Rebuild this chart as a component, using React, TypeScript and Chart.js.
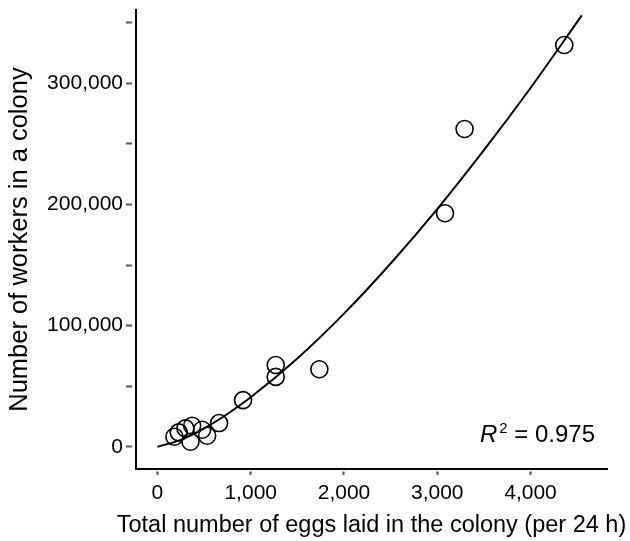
import React, { useEffect, useRef } from 'react';
import { Chart, registerables } from 'chart.js';

Chart.register(...registerables);

// Observed colonies
const eggs = [4362, 3293, 3083, 1736, 1268, 1268, 918, 661, 182, 228, 300, 372, 354, 479, 533];
const workers = [331700, 262300, 192750, 64000, 67500, 57660, 38470, 19520, 8240, 11860, 15160, 17300, 4120, 14000, 9060];

// Fitted curve
const fitEggs = [0, 250, 500, 750, 1000, 1500, 2000, 2500, 3000, 3500, 4000, 4550];
const fitWorkers = [0, 5620, 15150, 27040, 40800, 72870, 109870, 151300, 196200, 244800, 296200, 356100];

const xTicks = [0, 1000, 2000, 3000, 4000];
const yTicks = [0, 50000, 100000, 150000, 200000, 250000, 300000, 350000];
const yLabeled = [0, 100000, 200000, 300000];

const xTitle = 'Total number of eggs laid in the colony (per 24 h)';
const yTitle = 'Number of workers in a colony';
const r2Value = '0.975';

const FAMILY = '"Liberation Sans", Arial, Helvetica, sans-serif';

const fmt = (v: number) => v.toLocaleString('en-US');

const textPlugin = {
  id: 'extraText',
  afterDraw(chart: any) {
    const { ctx, chartArea } = chart;
    ctx.save();
    ctx.fillStyle = '#000';

    // x-axis title (drawn here so that it may run wider than the plot area)
    ctx.font = `23.5px ${FAMILY}`;
    ctx.textAlign = 'center';
    ctx.textBaseline = 'middle';
    ctx.fillText(xTitle, (chartArea.left + chartArea.right) / 2, chart.height - 15);

    // R² label
    ctx.textBaseline = 'alphabetic';
    ctx.textAlign = 'left';
    const bigItalic = `italic 24px ${FAMILY}`;
    const big = `24px ${FAMILY}`;
    const small = `15px ${FAMILY}`;
    const rest = ' = ' + r2Value;
    ctx.font = bigItalic;
    const wR = ctx.measureText('R').width;
    ctx.font = small;
    const w2 = ctx.measureText('2').width;
    ctx.font = big;
    const wRest = ctx.measureText(rest).width;
    const right = chartArea.right - 12;
    const base = chartArea.bottom - 27;
    const x0 = right - (wR + 2 + w2 + wRest);
    ctx.font = bigItalic;
    ctx.fillText('R', x0, base);
    ctx.font = small;
    ctx.fillText('2', x0 + wR + 2, base - 9);
    ctx.font = big;
    ctx.fillText(rest, x0 + wR + 2 + w2, base);
    ctx.restore();
  },
};

export default function App() {
  const ref = useRef<HTMLCanvasElement | null>(null);

  useEffect(() => {
    document.body.style.margin = '0';
    const canvas = ref.current;
    if (!canvas) return;
    Chart.defaults.font.family = FAMILY;
    const chart = new Chart(canvas, {
      type: 'scatter',
      data: {
        datasets: [
          {
            label: 'fit',
            data: fitEggs.map((x, i) => ({ x, y: fitWorkers[i] })),
            showLine: true,
            borderColor: '#000',
            borderWidth: 2,
            pointRadius: 0,
            cubicInterpolationMode: 'monotone',
            fill: false,
          },
          {
            label: 'colonies',
            data: eggs.map((x, i) => ({ x, y: workers[i] })),
            showLine: false,
            pointStyle: 'circle',
            pointRadius: 8.5,
            borderColor: '#000',
            borderWidth: 1.6,
            backgroundColor: 'rgba(0,0,0,0)',
          },
        ],
      },
      options: {
        animation: false,
        responsive: false,
        events: [],
        layout: { padding: { top: 10, right: 23, left: 0, bottom: 0 } },
        plugins: { legend: { display: false }, tooltip: { enabled: false } },
        scales: {
          x: {
            type: 'linear',
            position: 'bottom',
            min: -230,
            max: 4820,
            afterBuildTicks: (axis: any) => {
              axis.ticks = xTicks.map((v) => ({ value: v }));
            },
            afterFit: (axis: any) => {
              axis.height = 72;
              axis.paddingLeft = 0;
              axis.paddingRight = 0;
            },
            ticks: {
              callback: (v: any) => fmt(Number(v)),
              font: { size: 21, family: FAMILY },
              color: '#000',
              padding: 6,
              maxRotation: 0,
              autoSkip: false,
            },
            grid: {
              drawOnChartArea: false,
              drawTicks: true,
              tickLength: 6,
              tickColor: '#555',
              tickWidth: 2,
              tickBorderDash: [0, 1.5, 4.5, 20],
            },
            border: { display: true, color: '#000', width: 2 },
            title: { display: false },
          },
          y: {
            type: 'linear',
            position: 'left',
            min: -18400,
            max: 360500,
            afterBuildTicks: (axis: any) => {
              axis.ticks = yTicks.map((v) => ({ value: v }));
            },
            afterFit: (axis: any) => {
              axis.width = 136;
              axis.paddingTop = 0;
              axis.paddingBottom = 0;
            },
            ticks: {
              callback: (v: any) => (yLabeled.includes(Number(v)) ? fmt(Number(v)) : ''),
              font: { size: 21, family: FAMILY },
              color: '#000',
              padding: 3,
              autoSkip: false,
            },
            grid: {
              drawOnChartArea: false,
              drawTicks: true,
              tickLength: 10,
              tickColor: '#555',
              tickWidth: 2,
              tickBorderDash: [6, 20],
            },
            border: { display: true, color: '#000', width: 2 },
            title: {
              display: true,
              text: yTitle,
              color: '#000',
              font: { size: 25.5, family: FAMILY },
              padding: { top: 5, bottom: 0 },
            },
          },
        },
      },
      plugins: [textPlugin],
    } as any);
    return () => chart.destroy();
  }, []);

  return (
    <div style={{ position: 'absolute', left: 0, top: 0, width: 630, height: 541, background: '#fff' }}>
      <canvas ref={ref} width={630} height={541} style={{ width: 630, height: 541, display: 'block' }} />
    </div>
  );
}
